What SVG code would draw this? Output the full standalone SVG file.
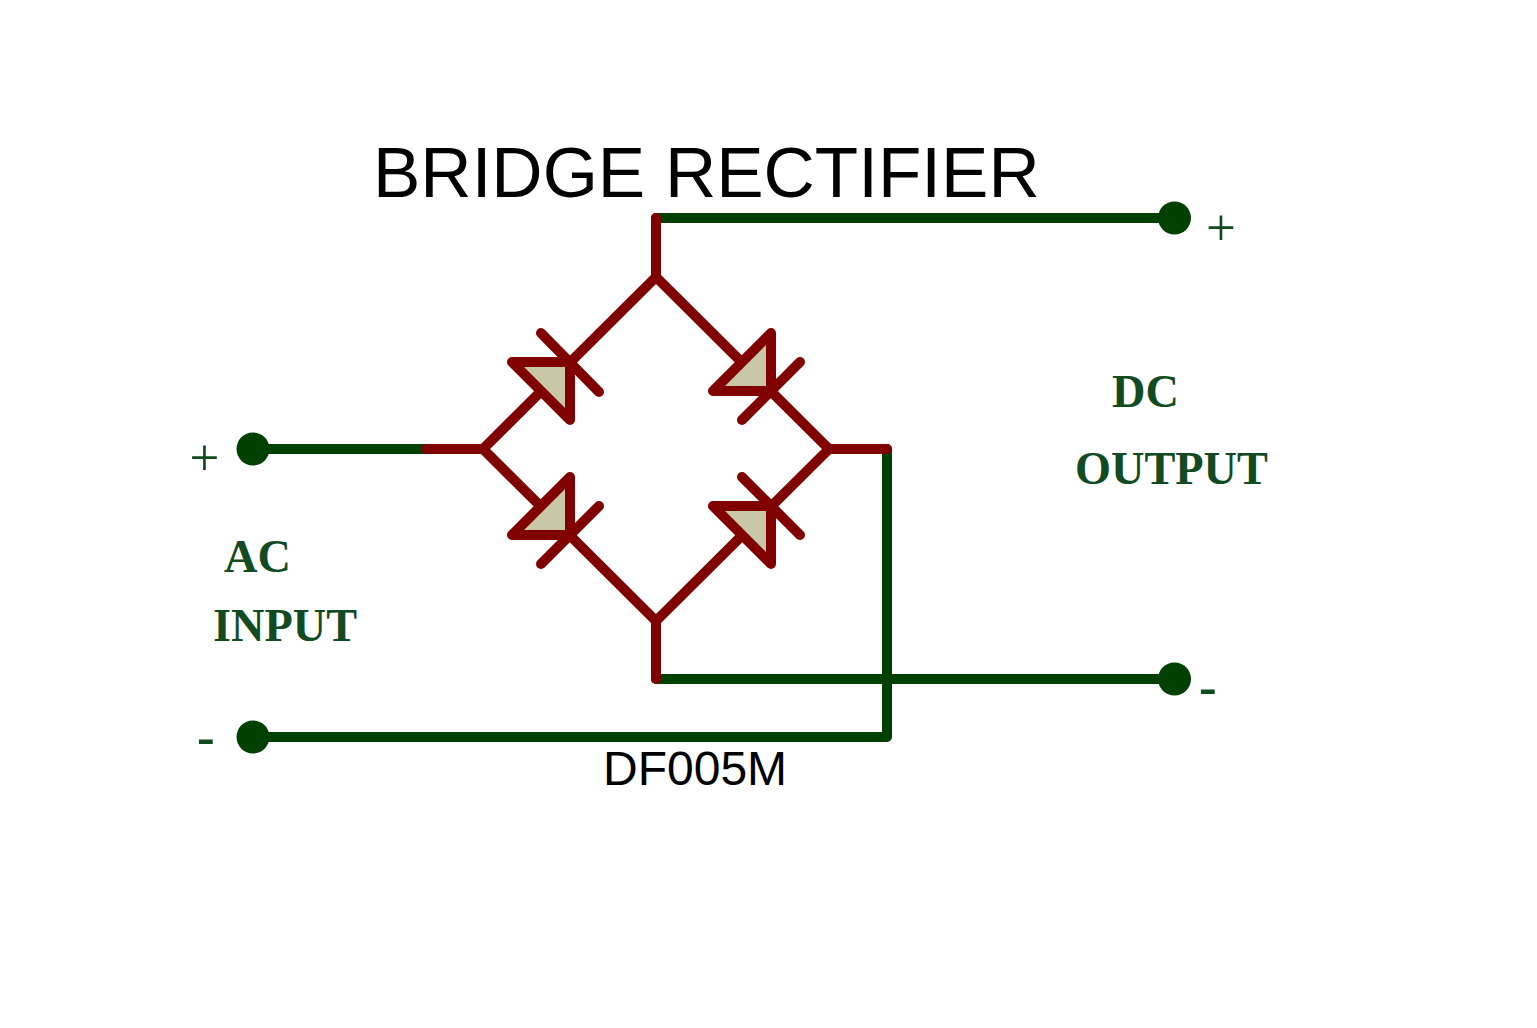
<svg xmlns="http://www.w3.org/2000/svg" width="1537" height="1028" viewBox="0 0 1537 1028">
<style>
.g{fill:none;stroke:#004000;stroke-width:10;stroke-linecap:round;stroke-linejoin:round}
.r{fill:none;stroke:#800000;stroke-width:10;stroke-linecap:round;stroke-linejoin:round}
.d{fill:#c8c8a8;stroke:#800000;stroke-width:10;stroke-linejoin:round}
.p{fill:#004000}
.s{font-family:"Liberation Sans",Arial,sans-serif;fill:#000}
.l{font-family:"Liberation Serif","Times New Roman",serif;font-weight:bold;font-size:46.300px;fill:#124a22}
.m{font-family:"Liberation Serif","Times New Roman",serif;font-size:53px;fill:#0f4a1c}
.n{font-family:"Liberation Serif","Times New Roman",serif;font-weight:bold;font-size:53px;fill:#0f4a1c}
</style>
<rect width="1537" height="1028" fill="#fff"/>
<g id="connectors">
<path class="g" d="M253 449H426"/>
<path class="g" d="M253 737H887V449"/>
<path class="g" d="M656 218H1174.500"/>
<path class="g" d="M656 679H1174.500"/>
<path class="r" d="M426 449H483"/>
<path class="r" d="M829 449H887"/>
<path class="r" d="M656 218V277"/>
<path class="r" d="M656 679V621"/>
<path class="r" d="M483 449L656 277L829 449L656 621Z"/>
</g>
<g id="D1"><path class="d" d="M512 362H570V420Z"/><path class="r" d="M541 333L599 392"/></g>
<g id="D2"><path class="d" d="M771 333V391H713Z"/><path class="r" d="M800 362L742 420"/></g>
<g id="D3"><path class="d" d="M570 477V535H512Z"/><path class="r" d="M599 506L541 564"/></g>
<g id="D4"><path class="d" d="M713 506H771V564Z"/><path class="r" d="M742 477L800 535"/></g>
<g id="ac-plus"><circle class="p" cx="253" cy="449" r="16.500"/><text class="m" x="189.500" y="475">+</text></g>
<g id="ac-minus"><circle class="p" cx="253" cy="737" r="16.500"/><text class="n" x="197" y="754">-</text></g>
<g id="dc-plus"><circle class="p" cx="1174.500" cy="218" r="16.500"/><text class="m" x="1206" y="245">+</text></g>
<g id="dc-minus"><circle class="p" cx="1174.500" cy="679" r="16.500"/><text class="n" x="1199" y="704">-</text></g>
<g id="labels">
<text class="s" x="373" y="197" font-size="71">BRIDGE RECTIFIER</text>
<text class="s" x="603" y="785" font-size="48">DF005M</text>
<text class="l" x="224" y="572">AC</text>
<text class="l" x="213" y="641">INPUT</text>
<text class="l" x="1112" y="407">DC</text>
<text class="l" x="1075" y="484">OUTPUT</text>
</g>
</svg>
